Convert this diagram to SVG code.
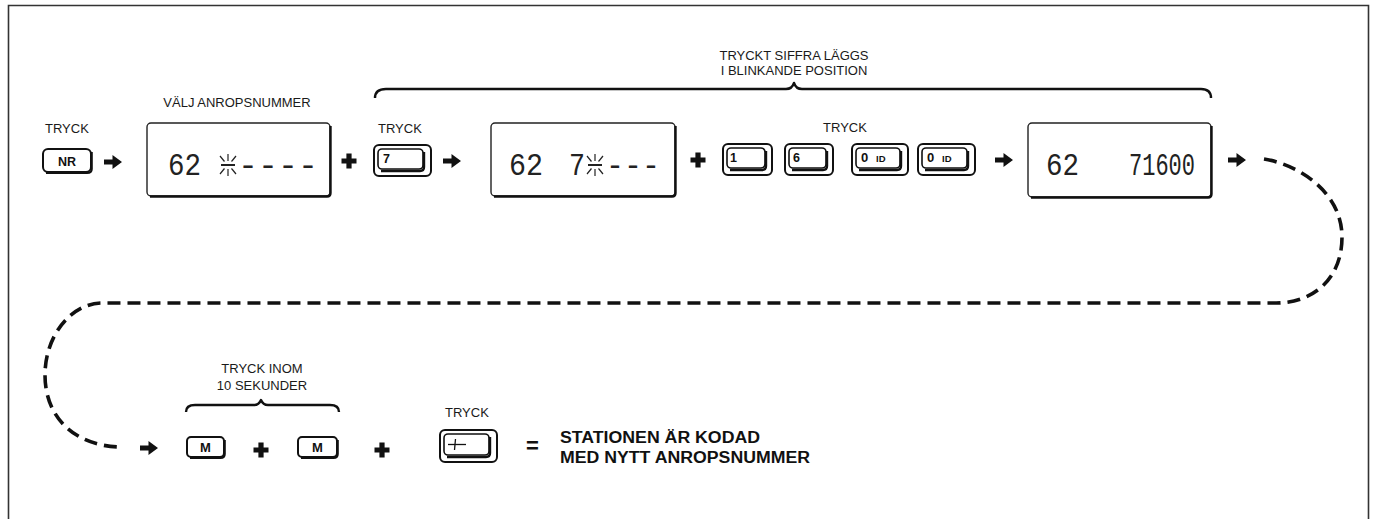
<svg xmlns="http://www.w3.org/2000/svg" width="1373" height="519" viewBox="0 0 1373 519">
<style>
.lbl{font-family:"Liberation Sans",Arial,sans-serif;font-size:13px;fill:#1a1a1a}
.mid{text-anchor:middle}
.kt{font-family:"Liberation Sans",Arial,sans-serif;font-weight:bold;font-size:12.5px;fill:#111}
.big{font-family:"Liberation Sans",Arial,sans-serif;font-weight:bold;font-size:16px;fill:#111}
.seg{font-family:"Liberation Mono","Courier New",monospace;font-size:32px;fill:#222}
.ko{fill:#fff;stroke:#111;stroke-width:2}
.ki{fill:none;stroke:#111;stroke-width:1.6}
.disp{fill:#fff;stroke:#222;stroke-width:1.4}
.dsh{fill:none;stroke:#111;stroke-width:2.4}
.br{fill:none;stroke:#111;stroke-width:2.4;stroke-linejoin:round}
.blink line{stroke:#222;stroke-width:1.2}
.dash{fill:none;stroke:#111;stroke-width:3.6;stroke-dasharray:13 7}
</style>
<defs>
<path id="arr" d="M0,-2.4 H8.5 V-7 L18,0 L8.5,7 V2.4 H0 Z" fill="#111"/>
<path id="plus" d="M-2.6,-7.5 h5.2 v4.9 h4.9 v5.2 h-4.9 v4.9 h-5.2 v-4.9 h-4.9 v-5.2 h4.9 z" fill="#111"/>
<g id="blink" class="blink">
<line x1="-7" y1="0" x2="7" y2="0" style="stroke-width:2"/>
<line x1="0" y1="-11" x2="0" y2="-4"/>
<line x1="-8" y1="-9" x2="-3.5" y2="-3.5"/>
<line x1="8" y1="-9" x2="3.5" y2="-3.5"/>
<line x1="0" y1="4" x2="0" y2="11"/>
<line x1="-8" y1="9" x2="-3.5" y2="3.5"/>
<line x1="8" y1="9" x2="3.5" y2="3.5"/>
</g>
</defs>
<rect width="1373" height="519" fill="#fff"/>
<path d="M8.5,519 V5.5 H1368.5 V519" fill="none" stroke="#333" stroke-width="1.6"/>

<g id="brace-top">
<text class="lbl mid" x="794" y="60">TRYCKT SIFFRA LÄGGS</text>
<text class="lbl mid" x="794" y="75">I BLINKANDE POSITION</text>
<path class="br" d="M375,98 Q375,89 386,89 L786,89 Q792,89 794,83 Q796,89 802,89 L1201,89 Q1211,89 1211,98"/>
</g>
<g id="brace-bottom">
<text class="lbl mid" x="262" y="373">TRYCK INOM</text>
<text class="lbl mid" x="262" y="390">10 SEKUNDER</text>
<path class="br" d="M186,412 Q186,405 195,405 L254,405 Q259,405 261,400 Q263,405 268,405 L330,405 Q339,405 339,412"/>
</g>

<g id="key-nr">
<text class="lbl" x="45" y="133">TRYCK</text>
<rect class="ko" x="43" y="149" width="48" height="23" rx="5"/>
<path class="ki" d="M91.8,152 V169 Q91.8,173 87,173 H46" style="stroke-width:2"/>
<text class="kt mid" x="67" y="165.5">NR</text>
</g>

<g id="display-1">
<text class="lbl mid" x="237" y="107">VÄLJ ANROPSNUMMER</text>
<rect class="disp" x="147" y="123" width="183" height="73" rx="4"/>
<path class="dsh" d="M330.5,126 V193 Q330.5,196.5 327,196.5 H150"/>
<text class="seg" x="168" y="175" textLength="33" lengthAdjust="spacingAndGlyphs">62</text>
<use href="#blink" x="228" y="165"/>
<text class="seg" x="238" y="175" textLength="80" lengthAdjust="spacingAndGlyphs">----</text>
</g>

<g id="key-7">
<text class="lbl" x="378" y="133">TRYCK</text>
<rect class="ko" x="374" y="145" width="57" height="31" rx="5"/>
<rect class="ki" x="378" y="149" width="45" height="20" rx="4"/>
<path class="ki" d="M424,152 V167 Q424,171 420,171 H381" style="stroke-width:2.4"/>
<text class="kt" x="383" y="163">7</text>
</g>

<g id="display-2">
<rect class="disp" x="491" y="123" width="184" height="73" rx="4"/>
<path class="dsh" d="M675.5,126 V193 Q675.5,196.5 672,196.5 H494"/>
<text class="seg" x="509" y="175" textLength="34" lengthAdjust="spacingAndGlyphs">62</text>
<text class="seg" x="569" y="175" textLength="16" lengthAdjust="spacingAndGlyphs">7</text>
<use href="#blink" x="595" y="165"/>
<text class="seg" x="606" y="175" textLength="54" lengthAdjust="spacingAndGlyphs">---</text>
</g>

<g id="keys-1600">
<text class="lbl mid" x="845" y="132">TRYCK</text>
<g id="key-1">
<rect class="ko" x="723" y="144" width="49" height="31" rx="5"/>
<rect class="ki" x="727" y="148" width="38" height="20" rx="4"/>
<path class="ki" d="M766,151 V166 Q766,170 762,170 H730" style="stroke-width:2.4"/>
<text class="kt" x="730" y="162">1</text>
</g>
<g id="key-6">
<rect class="ko" x="785" y="144" width="48" height="31" rx="5"/>
<rect class="ki" x="789" y="148" width="37" height="20" rx="4"/>
<path class="ki" d="M827,151 V166 Q827,170 823,170 H792" style="stroke-width:2.4"/>
<text class="kt" x="793" y="162">6</text>
</g>
<g id="key-0a">
<rect class="ko" x="852" y="144" width="56" height="31" rx="5"/>
<rect class="ki" x="856" y="148" width="44" height="20" rx="4"/>
<path class="ki" d="M901,151 V166 Q901,170 897,170 H859" style="stroke-width:2.4"/>
<text class="kt" x="861" y="162" style="font-size:13px">0</text>
<text class="kt" x="876" y="162" style="font-size:9.5px">ID</text>
</g>
<g id="key-0b">
<rect class="ko" x="918" y="144" width="57" height="31" rx="5"/>
<rect class="ki" x="922" y="148" width="45" height="20" rx="4"/>
<path class="ki" d="M968,151 V166 Q968,170 964,170 H925" style="stroke-width:2.4"/>
<text class="kt" x="927" y="162" style="font-size:13px">0</text>
<text class="kt" x="942" y="162" style="font-size:9.5px">ID</text>
</g>
</g>

<g id="display-3">
<rect class="disp" x="1028" y="123" width="183" height="74" rx="4"/>
<path class="dsh" d="M1211.5,126 V194 Q1211.5,197.5 1208,197.5 H1031"/>
<text class="seg" x="1046" y="175" textLength="33" lengthAdjust="spacingAndGlyphs">62</text>
<text class="seg" x="1129" y="175" textLength="66" lengthAdjust="spacingAndGlyphs">71600</text>
</g>

<g id="key-m1">
<rect class="ko" x="187" y="437" width="37" height="20" rx="4"/>
<path class="ki" d="M224.8,440 V454 Q224.8,458 220.5,458 H190" style="stroke-width:2"/>
<text class="kt mid" x="205.5" y="452" style="font-size:13px">M</text>
</g>
<g id="key-m2">
<rect class="ko" x="298" y="437" width="39" height="20" rx="4"/>
<path class="ki" d="M337.8,440 V454 Q337.8,458 333.5,458 H301" style="stroke-width:2"/>
<text class="kt mid" x="317.5" y="452" style="font-size:13px">M</text>
</g>

<g id="key-enter">
<text class="lbl" x="445" y="417">TRYCK</text>
<rect class="ko" x="440" y="430" width="57" height="32" rx="5"/>
<rect class="ki" x="444" y="434" width="45" height="21" rx="4"/>
<path class="ki" d="M490,437 V453 Q490,457 486,457 H447" style="stroke-width:2.4"/>
<line x1="448" y1="444.5" x2="466" y2="444.5" stroke="#111" stroke-width="1.3"/>
<line x1="455.5" y1="439" x2="454.5" y2="450" stroke="#111" stroke-width="1.3"/>
</g>

<g id="result">
<text class="big" x="526" y="453" style="font-size:22px">=</text>
<text class="big" x="560" y="443" textLength="200" lengthAdjust="spacingAndGlyphs">STATIONEN ÄR KODAD</text>
<text class="big" x="560" y="463" textLength="250" lengthAdjust="spacingAndGlyphs">MED NYTT ANROPSNUMMER</text>
</g>

<g id="connectors">
<use href="#arr" x="104" y="162"/>
<use href="#plus" x="349" y="161"/>
<use href="#arr" x="443" y="161"/>
<use href="#plus" x="698" y="160"/>
<use href="#arr" x="995" y="160"/>
<use href="#arr" x="1228" y="160"/>
<path class="dash" d="M1264,159 C1300,165 1342,193 1342,237 C1342,280 1312,303 1276,303 L102,303 C72,303 45,335 45,375 C45,420 78,447 122,447"/>
<use href="#arr" x="140" y="448"/>
<use href="#plus" x="261" y="450"/>
<use href="#plus" x="382" y="450"/>
</g>
</svg>
